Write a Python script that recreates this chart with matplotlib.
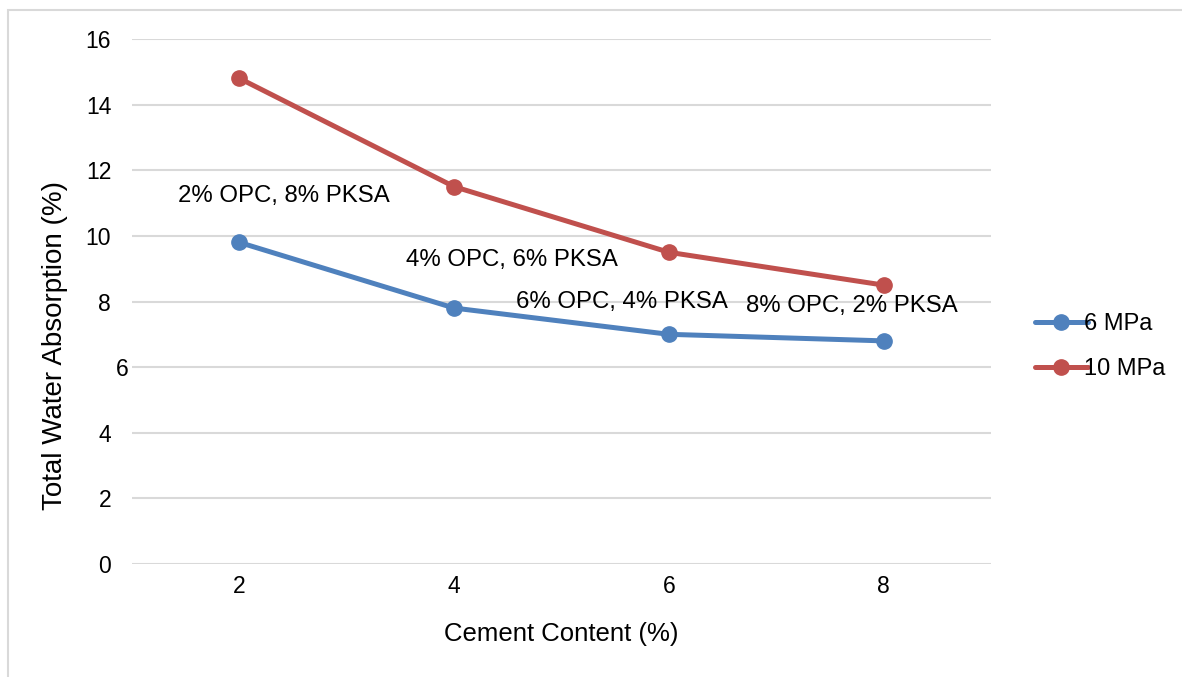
import numpy as np
import matplotlib
matplotlib.use('Agg')
from matplotlib import pyplot as plt
from matplotlib.patches import Rectangle
from matplotlib.transforms import ScaledTranslation

plt.rcParams['font.family'] = ['Liberation Sans', 'DejaVu Sans']

# cement content categories and total water absorption for each compaction pressure
cement = ['2', '4', '6', '8']
absorption_6mpa = [9.8, 7.8, 7.0, 6.8]
absorption_10mpa = [14.8, 11.5, 9.5, 8.5]
mix_labels = ['2% OPC, 8% PKSA', '4% OPC, 6% PKSA', '6% OPC, 4% PKSA', '8% OPC, 2% PKSA']
yticks = [0, 2, 4, 6, 8, 10, 12, 14, 16]

blue = '#4F81BD'
red = '#C0504D'
grid = '#D9D9D9'

fig = plt.figure(figsize=(11.82, 6.77), dpi=100)
ax = fig.add_axes([0.1117, 0.1669, 0.7267, 0.7755])

x = np.arange(len(cement))
ax.plot(x, absorption_6mpa, color=blue, lw=3.6, marker='o', ms=11, label='6 MPa',
        solid_capstyle='round', zorder=3)
ax.plot(x, absorption_10mpa, color=red, lw=3.6, marker='o', ms=11, label='10 MPa',
        solid_capstyle='round', zorder=3)

# mix proportion labels sitting near each cement content
label_pos = [(0.205, 11.2), (1.27, 9.27), (1.78, 7.99), (2.85, 7.85)]
for (lx, ly), txt in zip(label_pos, mix_labels):
    ax.text(lx, ly, txt, ha='center', va='center', fontsize=17.3, color='black', zorder=4)

ax.set_xlim(-0.5, len(cement) - 0.5)
ax.set_ylim(0, 16)
ax.set_xticks(x)
ax.set_xticklabels(cement)
ax.set_yticks(yticks)
ax.set_yticklabels([str(v) for v in yticks])
ax.tick_params(axis='both', length=0, labelsize=16.5, colors='black')
ax.tick_params(axis='y', pad=15)
ax.tick_params(axis='x', pad=8)
ax.yaxis.grid(True, color=grid, lw=1.5)
ax.set_axisbelow(True)
for s in ax.spines.values():
    s.set_visible(False)

# the "6" on the value axis sits a little to the right
lbl6 = ax.get_yticklabels()[yticks.index(6)]
lbl6.set_transform(lbl6.get_transform() + ScaledTranslation(17 / 100, 0, fig.dpi_scale_trans))

fig.text(561 / 1182, 1 - 634 / 677, 'Cement Content (%)', ha='center', va='center',
         fontsize=18.5)
fig.text(55 / 1182, 1 - 345 / 677, 'Total Water Absorption (%)', ha='center', va='center',
         rotation=90, fontsize=20)

leg = fig.legend(loc='center left', bbox_to_anchor=(0.8575, 0.488), frameon=False,
                 fontsize=17, handlelength=2.25, handletextpad=-0.17, labelspacing=0.95)

# light chart frame
fig.patches.append(Rectangle((8 / 1182, -0.5), 2.0, 1.5 - 10 / 677,
                             transform=fig.transFigure, fill=False,
                             edgecolor=grid, lw=1.5))

fig.savefig('out.png', dpi=100)
